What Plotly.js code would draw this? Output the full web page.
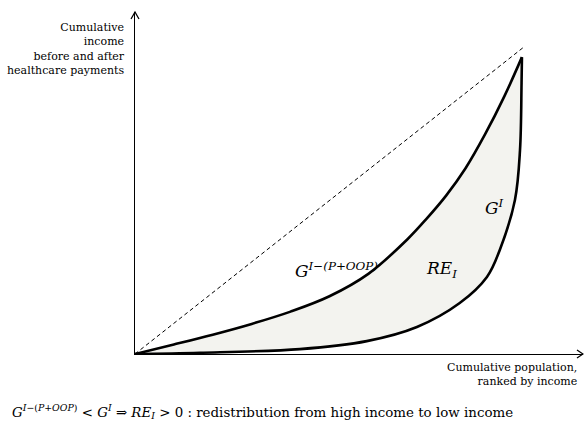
<!DOCTYPE html>
<html>
<head>
<meta charset="utf-8">
<script src="https://cdn.plot.ly/plotly-3.0.1.min.js"></script>
<style>html,body{margin:0;padding:0;background:#fff;}#chart{width:584px;height:423px;}</style>
</head>
<body>
<div id="chart"></div>
<script>
// Cumulative population share (x) and cumulative income share (y)
const equalityX = [0, 1];
const equalityY = [0, 1];

// Concentration curve after healthcare payments: G^{I-(P+OOP)}
const afterX = [0, 0.1, 0.2, 0.3, 0.4, 0.5, 0.6, 0.7, 0.75, 0.8, 0.85, 0.9, 0.95, 0.995];
const afterY = [0, 0.031, 0.063, 0.098, 0.138, 0.188, 0.261, 0.373, 0.441, 0.516, 0.605, 0.715, 0.840, 0.967];

// Lorenz curve before payments: G^I
const beforeX = [0, 0.167, 0.424, 0.596, 0.725, 0.835, 0.905, 0.938, 0.977, 0.990, 0.994, 0.995];
const beforeY = [0, 0.004, 0.016, 0.042, 0.088, 0.166, 0.251, 0.339, 0.502, 0.664, 0.883, 0.967];

const labelAfter = 'G<sup>I−(P+OOP)</sup>';
const labelBefore = 'G<sup>I</sup>';
const labelRE = 'RE<sub>I</sub>';
const yTitle = 'Cumulative<br>income<br>before and after<br>healthcare payments';
const xTitle = 'Cumulative population,<br>ranked by income';
const caption = '<i>G</i><sup><i>I</i>−(<i>P</i>+<i>OOP</i>)</sup> &lt; <i>G</i><sup><i>I</i></sup> ⇒ <i>RE</i><sub><i>I</i></sub> &gt; 0 : redistribution from high income to low income';

const polyX = afterX.concat(beforeX.slice().reverse());
const polyY = afterY.concat(beforeY.slice().reverse());

const traces = [
  {x: polyX, y: polyY, mode: 'lines', fill: 'toself', fillcolor: '#f3f3ef', line: {width: 0, color: 'rgba(0,0,0,0)', shape: 'spline', smoothing: 1}, hoverinfo: 'skip'},
  {x: equalityX, y: equalityY, mode: 'lines', line: {color: '#000', width: 1, dash: '4px,3px'}},
  {x: afterX, y: afterY, mode: 'lines', line: {color: '#000', width: 2.6, shape: 'spline', smoothing: 1}},
  {x: beforeX, y: beforeY, mode: 'lines', line: {color: '#000', width: 2.6, shape: 'spline', smoothing: 1}}
];

const serif = 'DejaVu Serif';
const mathFont = {family: 'DejaVu Serif', size: 17, color: '#000'};

const layout = {
  width: 584, height: 423,
  margin: {l: 135, r: 1, t: 12, b: 69},
  showlegend: false,
  paper_bgcolor: '#fff', plot_bgcolor: '#fff',
  xaxis: {range: [0, 1.152], showline: true, linecolor: '#000', linewidth: 1.3, showgrid: false, zeroline: false, showticklabels: false, ticks: '', fixedrange: true},
  yaxis: {range: [0, 1.114], showline: true, linecolor: '#000', linewidth: 1.3, showgrid: false, zeroline: false, showticklabels: false, ticks: '', fixedrange: true},
  shapes: [
    {type: 'path', xref: 'paper', yref: 'paper', path: 'M -0.0089 0.9795 L 0 1 L 0.0089 0.9795', line: {color: '#000', width: 1.3}},
    {type: 'path', xref: 'paper', yref: 'paper', path: 'M 0.9866 0.0117 L 1 0 L 0.9866 -0.0117', line: {color: '#000', width: 1.3}}
  ],
  annotations: [
    {xref: 'x', yref: 'y', x: 0.517, y: 0.274, text: '<i>' + labelAfter + '</i>', showarrow: false, font: mathFont},
    {xref: 'x', yref: 'y', x: 0.787, y: 0.274, text: '<i>' + labelRE + '</i>', showarrow: false, font: mathFont},
    {xref: 'x', yref: 'y', x: 0.925, y: 0.479, text: '<i>' + labelBefore + '</i>', showarrow: false, font: mathFont},
    {xref: 'paper', yref: 'paper', x: -0.018, y: 0.98, xanchor: 'right', yanchor: 'top', align: 'right', text: yTitle, showarrow: false, font: {family: serif, size: 11, color: '#000'}},
    {xref: 'paper', yref: 'paper', x: 0.99, y: -0.014, xanchor: 'right', yanchor: 'top', align: 'right', text: xTitle, showarrow: false, font: {family: serif, size: 11, color: '#000'}},
    {xref: 'paper', yref: 'paper', x: -0.278, y: -0.168, xanchor: 'left', yanchor: 'middle', align: 'left', text: caption, showarrow: false, font: {family: serif, size: 13.4, color: '#000'}}
  ]
};

Plotly.newPlot('chart', traces, layout, {displayModeBar: false, staticPlot: true});
</script>
</body>
</html>
